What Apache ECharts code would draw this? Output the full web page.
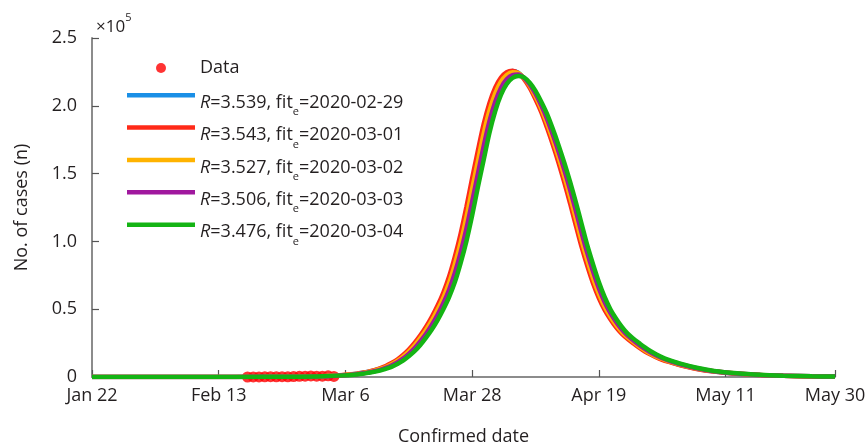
<!DOCTYPE html>
<html>
<head>
<meta charset="utf-8">
<script src="https://cdn.jsdelivr.net/npm/echarts@6/dist/echarts.min.js"></script>
<style>html,body{margin:0;padding:0;background:#fff;}#c{width:865px;height:448px;}</style>
</head>
<body>
<div id="c"></div>
<script>
// x: days since Jan 22, 2020 ; y: cases in units of 1e5
const xTickDays = [0, 22, 44, 66, 88, 110, 129];
const xTickLabels = ['Jan 22', 'Feb 13', 'Mar 6', 'Mar 28', 'Apr 19', 'May 11', 'May 30'];

const dataDays   = [27, 28, 29, 30, 31, 32, 33, 34, 35, 36, 37, 38, 39, 40, 41, 42];
const dataValues = [0.0001, 0.0002, 0.0005, 0.001, 0.0023, 0.0017, 0.0023, 0.0014, 0.0028, 0.005, 0.0057, 0.0081, 0.0059, 0.006, 0.0085, 0.0044];

const fitDays = [0, 10, 20, 30, 36, 40,
  44, 45, 46, 47, 48, 49, 50, 51, 52, 53,
  54, 55, 56, 57, 58, 59, 60, 61, 62, 63,
  64, 65, 66, 67, 68, 69, 70, 71, 72, 73,
  74, 75, 76, 77, 78, 79, 80, 81, 82, 83,
  84, 85, 86, 87, 88, 89, 90, 91, 92, 93,
  94, 95, 96, 97, 98, 99, 100,
  102, 105, 108, 112, 116, 120, 125, 129];

const blueVals = [0, 0, 0, 0.001, 0.003, 0.006,
  0.015, 0.019, 0.024, 0.031, 0.039, 0.048, 0.061, 0.076, 0.098, 0.122,
  0.155, 0.193, 0.240, 0.295, 0.356, 0.427, 0.508, 0.599, 0.711, 0.853,
  1.016, 1.209, 1.422, 1.626, 1.829, 1.991, 2.113, 2.195, 2.240, 2.256,
  2.245, 2.205, 2.144, 2.062, 1.971, 1.859, 1.737, 1.605, 1.463, 1.311,
  1.148, 0.986, 0.843, 0.711, 0.599, 0.508, 0.437, 0.376, 0.325, 0.288,
  0.254, 0.221, 0.193, 0.169, 0.147, 0.130, 0.116,
  0.090, 0.061, 0.041, 0.024, 0.015, 0.009, 0.005, 0.002];

const redVals = [0, 0, 0, 0.001, 0.003, 0.006,
  0.016, 0.020, 0.025, 0.032, 0.040, 0.051, 0.064, 0.081, 0.103, 0.129,
  0.163, 0.203, 0.251, 0.307, 0.371, 0.444, 0.527, 0.623, 0.741, 0.888,
  1.057, 1.254, 1.466, 1.670, 1.865, 2.020, 2.134, 2.208, 2.248, 2.258,
  2.242, 2.197, 2.132, 2.048, 1.953, 1.838, 1.714, 1.580, 1.435, 1.281,
  1.118, 0.959, 0.818, 0.690, 0.582, 0.495, 0.426, 0.366, 0.318, 0.281,
  0.248, 0.216, 0.188, 0.165, 0.144, 0.127, 0.113,
  0.088, 0.059, 0.040, 0.024, 0.015, 0.009, 0.004, 0.002];

const orangeVals = [0, 0, 0, 0.001, 0.003, 0.006,
  0.015, 0.019, 0.023, 0.030, 0.037, 0.046, 0.059, 0.074, 0.094, 0.118,
  0.150, 0.187, 0.232, 0.286, 0.346, 0.415, 0.495, 0.584, 0.693, 0.830,
  0.989, 1.177, 1.387, 1.591, 1.794, 1.962, 2.090, 2.177, 2.228, 2.248,
  2.241, 2.205, 2.148, 2.070, 1.980, 1.871, 1.751, 1.621, 1.481, 1.330,
  1.170, 1.007, 0.862, 0.729, 0.615, 0.520, 0.446, 0.384, 0.332, 0.292,
  0.258, 0.226, 0.197, 0.172, 0.150, 0.133, 0.118,
  0.092, 0.062, 0.042, 0.025, 0.015, 0.009, 0.005, 0.002];

const purpleVals = [0, 0, 0, 0.001, 0.002, 0.005,
  0.013, 0.017, 0.021, 0.027, 0.034, 0.042, 0.053, 0.067, 0.085, 0.108,
  0.136, 0.171, 0.212, 0.262, 0.319, 0.384, 0.459, 0.544, 0.644, 0.768,
  0.918, 1.093, 1.293, 1.500, 1.702, 1.885, 2.028, 2.131, 2.195, 2.227,
  2.231, 2.207, 2.158, 2.089, 2.003, 1.904, 1.788, 1.663, 1.528, 1.382,
  1.227, 1.065, 0.913, 0.777, 0.655, 0.553, 0.472, 0.406, 0.350, 0.305,
  0.270, 0.237, 0.207, 0.180, 0.158, 0.138, 0.123,
  0.096, 0.065, 0.043, 0.026, 0.015, 0.010, 0.005, 0.003];

const greenVals = [0, 0, 0, 0.001, 0.002, 0.005,
  0.012, 0.015, 0.019, 0.024, 0.031, 0.038, 0.047, 0.060, 0.075, 0.096,
  0.120, 0.153, 0.190, 0.236, 0.290, 0.350, 0.420, 0.500, 0.590, 0.700,
  0.840, 1.000, 1.190, 1.400, 1.600, 1.800, 1.960, 2.080, 2.160, 2.205,
  2.220, 2.210, 2.170, 2.110, 2.030, 1.940, 1.830, 1.710, 1.580, 1.440,
  1.290, 1.130, 0.970, 0.830, 0.700, 0.590, 0.500, 0.430, 0.370, 0.320,
  0.283, 0.250, 0.218, 0.190, 0.166, 0.145, 0.128,
  0.100, 0.068, 0.045, 0.027, 0.016, 0.010, 0.005, 0.003];

const fitR     = ['3.539', '3.543', '3.527', '3.506', '3.476'];
const fitDates = ['2020-02-29', '2020-03-01', '2020-03-02', '2020-03-03', '2020-03-04'];
const fitColors = ['#1a8fe6', '#ff2a18', '#ffb300', '#a0189e', '#14b414'];
const fitValues = [blueVals, redVals, orangeVals, purpleVals, greenVals];

const FONT = 'Open Sans';
const TXT = '#231f20';

const zip = (xs, ys) => xs.map((x, i) => [x, ys[i]]);
const fitName = i => 'R=' + fitR[i] + ', fit=' + fitDates[i];

const series = [{
  name: 'Data',
  type: 'scatter',
  data: zip(dataDays, dataValues),
  symbol: 'circle',
  symbolSize: 11,
  itemStyle: { color: '#ff0000' },
  z: 1
}];
fitR.forEach((r, i) => {
  series.push({
    name: fitName(i),
    type: 'line',
    data: zip(fitDays, fitValues[i]),
    symbol: 'none',
    smooth: 0.3,
    lineStyle: { width: 4.5, color: fitColors[i] },
    itemStyle: { color: fitColors[i] },
    z: 2 + i
  });
});

const richTokens = {
  d: { fontFamily: FONT, fontSize: 18, color: TXT, lineHeight: 20 },
  n: { fontFamily: FONT, fontSize: 18, color: TXT, lineHeight: 20 },
  i: { fontFamily: FONT, fontSize: 18, color: TXT, fontStyle: 'italic', lineHeight: 20 },
  s: { fontFamily: FONT, fontSize: 11, color: TXT, verticalAlign: 'bottom', lineHeight: 30 }
};
const legendFormatter = name => {
  if (name === 'Data') return '{d|Data}';
  const m = name.match(/^R=([\d.]+), fit=(.*)$/);
  return '{i|R}{n|=' + m[1] + ', fit}{s|e}{n|=' + m[2] + '}';
};
const baseLegend = {
  orient: 'vertical',
  left: 122,
  padding: 5,
  itemWidth: 68, itemHeight: 10,
  itemStyle: { borderWidth: 0 },
  textStyle: { fontFamily: FONT, fontSize: 18, color: TXT, rich: richTokens },
  formatter: legendFormatter
};
const legendTops = [54, 88, 120.3, 152.7, 185, 217.5];
const legends = [Object.assign({}, baseLegend, {
  top: legendTops[0],
  data: [{ name: 'Data', icon: 'path://M0,0L0,0M68,10L68,10M29,5A5,5,0,1,0,39,5A5,5,0,1,0,29,5Z' }]
})].concat(fitR.map((r, i) => Object.assign({}, baseLegend, {
  top: legendTops[i + 1],
  data: [{
    name: fitName(i),
    icon: 'path://M0,0L68,0L68,4.5L0,4.5Z',
    textStyle: { padding: [15, 0, 0, 0] }
  }]
})));

const chart = echarts.init(document.getElementById('c'), null, { renderer: 'canvas' });
chart.setOption({
  animation: false,
  backgroundColor: '#ffffff',
  grid: { left: 92, right: 30, top: 38, bottom: 71, containLabel: false, outerBoundsMode: 'none' },
  xAxis: {
    type: 'value',
    min: 0, max: 129,
    name: 'Confirmed date',
    nameLocation: 'middle',
    nameGap: 51,
    nameTextStyle: { fontFamily: FONT, fontSize: 18, color: TXT },
    splitLine: { show: false },
    axisLine: { show: true, lineStyle: { color: '#8c8c8c', width: 2 } },
    axisTick: { show: true, inside: true, length: 7, customValues: xTickDays, lineStyle: { color: '#555', width: 1.2 } },
    axisLabel: {
      customValues: xTickDays,
      margin: 10,
      fontFamily: FONT, fontSize: 18, color: TXT,
      formatter: v => { const k = xTickDays.indexOf(Math.round(v)); return k >= 0 ? xTickLabels[k] : ''; }
    }
  },
  yAxis: {
    type: 'value',
    min: 0, max: 2.5, interval: 0.5,
    name: 'No. of cases (n)',
    nameLocation: 'middle',
    nameGap: 61,
    nameTextStyle: { fontFamily: FONT, fontSize: 18, color: TXT },
    splitLine: { show: false },
    axisLine: { show: true, lineStyle: { color: '#8c8c8c', width: 2 } },
    axisTick: { show: true, inside: true, length: 7, lineStyle: { color: '#555', width: 1.2 } },
    axisLabel: {
      margin: 15,
      fontFamily: FONT, fontSize: 18, color: TXT,
      formatter: v => v === 0 ? '0' : v.toFixed(1)
    }
  },
  legend: legends,
  graphic: [{
    type: 'text',
    left: 96, top: 12,
    style: {
      text: '{a|×10}{b|5}',
      rich: {
        a: { fontFamily: FONT, fontSize: 17, fill: TXT, lineHeight: 24, verticalAlign: 'bottom' },
        b: { fontFamily: FONT, fontSize: 11, fill: TXT, lineHeight: 24, verticalAlign: 'top' }
      }
    }
  }],
  series: series
});
</script>
</body>
</html>
